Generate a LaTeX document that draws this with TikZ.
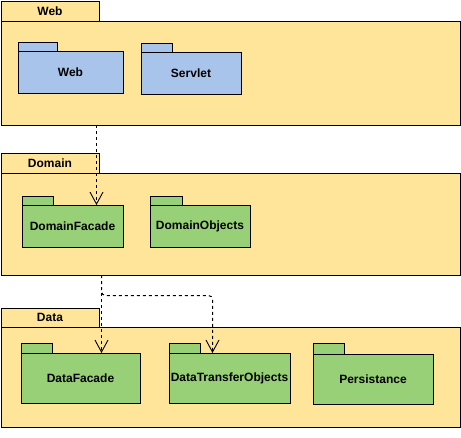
\documentclass[tikz,border=0pt]{standalone}
\usepackage{fontspec}
\setmainfont{Liberation Sans}
\usetikzlibrary{arrows.meta}
\definecolor{pkgyellow}{HTML}{FFE599}
\definecolor{pkgblue}{HTML}{A9C4EB}
\definecolor{pkggreen}{HTML}{97D077}
\begin{document}
\begin{tikzpicture}[x=1pt,y=-1pt,
  box/.style={draw=black, line width=1pt, inner sep=0pt, outer sep=0pt, rectangle,
    font=\fontsize{12}{14}\selectfont\bfseries, text=black},
  outerbody/.style={box, fill=pkgyellow, anchor=north west, minimum width=459, minimum height=#1},
  outertab/.style={box, fill=pkgyellow, anchor=south west, minimum width=98, minimum height=20},
  innerbody/.style 2 args={box, fill=#1, anchor=north west, minimum width=#2, minimum height=42},
  innertab/.style={box, fill=#1, anchor=south west, minimum width=31, minimum height=9},
  dep/.style={draw=black, line width=1pt, dash pattern=on 3pt off 3pt,
    -{Straight Barb[length=12pt,width=13pt,line width=0.9pt]}}
]
\useasboundingbox (0,0) rectangle (461,437);

% Web package
\node[outerbody=104] (webbody) at (1,21) {};
\node[outertab] (webtab) at (webbody.north west) {Web};
\node[innerbody={pkgblue}{105}] (web) at (18,51) {Web};
\node[innertab=pkgblue, minimum width=39] (webt) at (web.north west) {};
\node[innerbody={pkgblue}{100}] (servlet) at (141,52) {Servlet};
\node[innertab=pkgblue] (servlett) at (servlet.north west) {};

% Domain package
\node[outerbody=102] (dombody) at (1,173) {};
\node[outertab] (domtab) at (dombody.north west) {Domain};
\node[innerbody={pkggreen}{101}] (dfacade) at (22,205) {DomainFacade};
\node[innertab=pkggreen] (dfacadet) at (dfacade.north west) {};
\node[innerbody={pkggreen}{100}] (dobjects) at (150,205) {DomainObjects};
\node[innertab=pkggreen, minimum width=32] (dobjectst) at (dobjects.north west) {};

% Data package
\node[outerbody=100] (databody) at (1,327) {};
\node[outertab, minimum height=19] (datatab) at (databody.north west) {\raisebox{-2pt}{Data}};
\node[innerbody={pkggreen}{119}, minimum height=50] (datafacade) at (21,353) {DataFacade};
\node[innertab=pkggreen, minimum height=10] (datafacadet) at (datafacade.north west) {};
\node[innerbody={pkggreen}{121}, minimum height=50] (dto) at (169,353) {DataTransferObjects};
\node[innertab=pkggreen, minimum height=10] (dtot) at (dto.north west) {};
\node[innerbody={pkggreen}{120}, minimum height=50] (persist) at (313,354) {Persistance};
\node[innertab=pkggreen, minimum height=11] (persistt) at (persist.north west) {};

% connectors
\coordinate (xa) at (96.5,0);
\coordinate (xb) at (101.5,0);
\coordinate (xc) at (212.5,0);
\coordinate (ybend) at (0,295.5);
\draw[dep] (webbody.south -| xa) -- (dfacade.north -| xa);
\draw[dep] (dombody.south -| xb) -- (datafacade.north -| xb);
\draw[dep, rounded corners=4pt] (dombody.south -| xb) -- (xb |- ybend) -- (xc |- ybend) -- (dto.north -| xc);
\end{tikzpicture}
\end{document}
